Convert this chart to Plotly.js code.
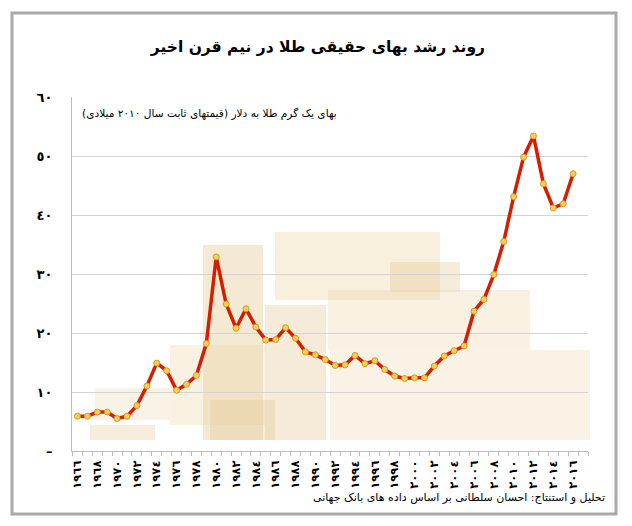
<!DOCTYPE html>
<html>
<head>
<meta charset="utf-8">
<script src="https://cdn.plot.ly/plotly-3.0.1.min.js"></script>
<style>
  html, body { margin: 0; padding: 0; background: #fff; }
  #gold-chart { width: 632px; height: 526px; }
</style>
</head>
<body>
<div id="gold-chart"></div>
<script>
// Chart data: real gold price per gram (constant 2010 USD)
const years = [1966, 1967, 1968, 1969, 1970, 1971, 1972, 1973, 1974, 1975,
  1976, 1977, 1978, 1979, 1980, 1981, 1982, 1983, 1984, 1985,
  1986, 1987, 1988, 1989, 1990, 1991, 1992, 1993, 1994, 1995,
  1996, 1997, 1998, 1999, 2000, 2001, 2002, 2003, 2004, 2005,
  2006, 2007, 2008, 2009, 2010, 2011, 2012, 2013, 2014, 2015, 2016];

const goldPrice = [5.9, 5.9, 6.6, 6.6, 5.5, 5.9, 7.7, 11.0, 14.9, 13.6,
  10.3, 11.3, 12.8, 18.2, 32.9, 24.9, 20.8, 24.1, 21.0, 18.8,
  18.9, 20.9, 19.1, 16.8, 16.3, 15.5, 14.5, 14.6, 16.2, 14.8,
  15.3, 13.8, 12.7, 12.3, 12.4, 12.4, 14.4, 16.1, 17.0, 17.8,
  23.7, 25.7, 29.9, 35.5, 43.1, 49.8, 53.4, 45.3, 41.2, 41.9, 47.0];

const tickYears = [1966, 1968, 1970, 1972, 1974, 1976, 1978, 1980, 1982, 1984,
  1986, 1988, 1990, 1992, 1994, 1996, 1998, 2000, 2002, 2004,
  2006, 2008, 2010, 2012, 2014, 2016];

const yTickVals = [0, 10, 20, 30, 40, 50, 60];
const yTickText = ['–', '١٠', '٢٠', '٣٠', '٤٠', '٥٠', '٦٠'];

const chartTitle = 'روند رشد بهای حقیقی طلا در نیم قرن اخیر';
const unitLabel = 'بهای یک گرم طلا به دلار (قیمتهای ثابت سال ٢٠١٠ میلادی)';
const sourceLabel = 'تحلیل و استنتاج: احسان سلطانی بر اساس داده های بانک جهانی';

// Convert latin digits to arabic-indic digits for tick labels
function toArabicDigits(n) {
  return String(n).replace(/[0-9]/g, (d) => '٠١٢٣٤٥٦٧٨٩'[d]);
}

// Page / plot geometry in pixels
const W = 632;
const H = 526;
const M = { l: 72, r: 44, t: 97, b: 75 };
const plotW = W - M.l - M.r;
const plotH = H - M.t - M.b;

function px(x) { return (x - M.l) / plotW; }
function py(y) { return (H - M.b - y) / plotH; }

const RLM = '\u200F';
const fontFa = 'DejaVu Sans, Noto Sans, sans-serif';

// Soft gold blocks standing in for the background photo
var decor = [
  { x0: 275, y0: 232, x1: 440, y1: 300, c: 'rgba(232,205,150,0.32)' },
  { x0: 203, y0: 245, x1: 263, y1: 440, c: 'rgba(226,196,140,0.38)' },
  { x0: 265, y0: 305, x1: 326, y1: 440, c: 'rgba(226,196,140,0.34)' },
  { x0: 390, y0: 262, x1: 460, y1: 292, c: 'rgba(226,196,140,0.32)' },
  { x0: 328, y0: 290, x1: 530, y1: 350, c: 'rgba(235,212,165,0.32)' },
  { x0: 170, y0: 345, x1: 265, y1: 425, c: 'rgba(235,212,165,0.32)' },
  { x0: 330, y0: 350, x1: 590, y1: 440, c: 'rgba(238,218,175,0.32)' },
  { x0: 210, y0: 400, x1: 275, y1: 440, c: 'rgba(226,196,140,0.32)' },
  { x0: 90, y0: 425, x1: 155, y1: 440, c: 'rgba(226,196,140,0.30)' },
  { x0: 95, y0: 388, x1: 170, y1: 420, c: 'rgba(226,196,140,0.22)' },
];

var shapes = decor.map((d) => ({
  type: 'rect',
  xref: 'paper', yref: 'paper',
  x0: px(d.x0), x1: px(d.x1), y0: py(d.y1), y1: py(d.y0),
  fillcolor: d.c,
  line: { width: 0 },
  layer: 'below',
}));

// Outer frame
shapes.push({
  type: 'rect',
  xref: 'paper', yref: 'paper',
  x0: px(12), x1: px(616), y0: py(514), y1: py(13),
  line: { color: '#a9a9a9', width: 3 },
  layer: 'above',
});

var priceTrace = {
  x: years,
  y: goldPrice,
  type: 'scatter',
  mode: 'lines+markers',
  line: { color: '#d41e00', width: 3.5 },
  marker: { color: '#f5cf55', size: 6, line: { color: '#d39a2a', width: 1 } },
  hoverinfo: 'x+y',
};

var layout = {
  width: W,
  height: H,
  margin: { l: M.l, r: M.r, t: M.t, b: M.b, pad: 0 },
  paper_bgcolor: '#ffffff',
  plot_bgcolor: '#ffffff',
  showlegend: false,
  font: { family: fontFa, color: '#000' },
  title: {
    text: '<b>' + chartTitle + '</b>',
    font: { size: 15.5, family: fontFa, color: '#000' },
    x: 0.503, xanchor: 'center',
    y: 1 - 47 / H, yanchor: 'middle',
    yref: 'container',
  },
  xaxis: {
    range: [1965.45, 2017.5],
    tickmode: 'array',
    tickvals: tickYears,
    ticktext: tickYears.map(toArabicDigits),
    tickangle: -90,
    tickfont: { size: 11.5, family: fontFa, color: '#000', weight: 'bold' },
    ticks: '',
    showgrid: false,
    zeroline: false,
    showline: true,
    linecolor: '#bdbdbd',
    linewidth: 1,
    ticklabelstandoff: 4,
    minor: { tickmode: 'linear', tick0: 1965.5, dtick: 1, ticks: 'outside', ticklen: 4, tickcolor: '#bdbdbd', showgrid: false },
  },
  yaxis: {
    range: [0, 60],
    tickmode: 'array',
    tickvals: yTickVals,
    ticktext: yTickText,
    tickfont: { size: 13, family: fontFa, color: '#000', weight: 'bold' },
    ticks: '',
    showgrid: true,
    gridcolor: '#d4d4d4',
    gridwidth: 1,
    zeroline: false,
    showline: true,
    linecolor: '#bdbdbd',
    linewidth: 1,
    ticklabelstandoff: 16,
  },
  shapes: shapes,
  annotations: [
    {
      text: RLM + unitLabel + RLM,
      xref: 'paper', yref: 'paper',
      x: px(80), xanchor: 'left',
      y: py(113), yanchor: 'middle',
      showarrow: false,
      font: { size: 10.6, family: fontFa, color: '#000' },
    },
    {
      text: RLM + sourceLabel + RLM,
      xref: 'paper', yref: 'paper',
      x: px(607), xanchor: 'right',
      y: py(497), yanchor: 'middle',
      showarrow: false,
      font: { size: 11, family: fontFa, color: '#000' },
    },
  ],
};

var config = { responsive: false, displayModeBar: false, staticPlot: true };

Plotly.newPlot('gold-chart', [priceTrace], layout, config);
</script>
</body>
</html>
